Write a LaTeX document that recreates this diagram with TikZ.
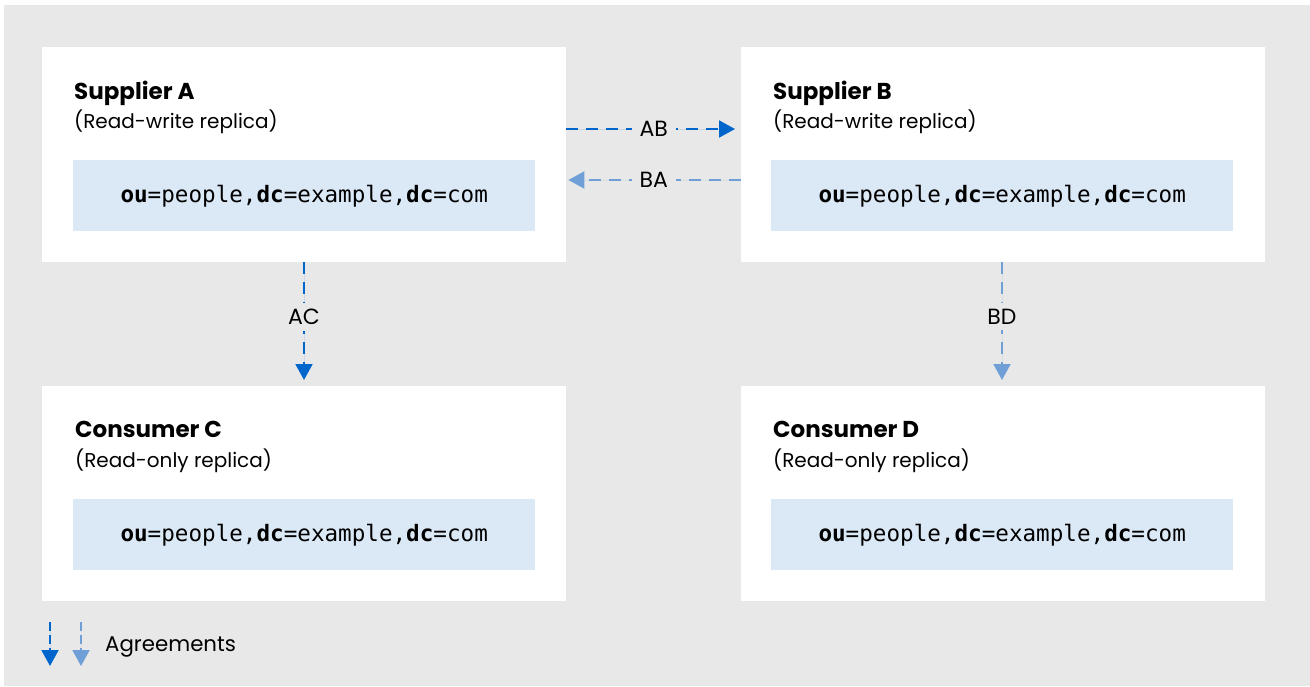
\documentclass[tikz,border=0pt]{standalone}
\usepackage{fontspec}
\setmainfont{Poppins}
\setmonofont{DejaVu Sans Mono}
\usetikzlibrary{arrows.meta}
\definecolor{bggray}{HTML}{E8E8E8}
\definecolor{darkblue}{HTML}{0066CC}
\definecolor{lightblue}{HTML}{6F9FD6}
\definecolor{innerfill}{HTML}{DBE8F6}
\tikzset{
  x=1pt, y=-1pt,
  outerbox/.style={fill=white, draw=none, anchor=north west, minimum width=524pt, minimum height=215pt, inner sep=0pt},
  innerbox/.style={fill=innerfill, draw=none, anchor=north west, minimum width=462pt, minimum height=71pt, inner sep=0pt, font=\fontsize{22.6}{26}\selectfont\ttfamily},
  titletext/.style={anchor=base west, inner sep=0pt, font=\fontsize{23}{27}\selectfont\bfseries},
  subtext/.style={anchor=base west, inner sep=0pt, font=\fontsize{20}{24}\selectfont},
  agr/.style={line width=2pt, dash pattern=on 12pt off 8pt, -{Triangle[width=17pt,length=16pt]}},
  agrdark/.style={agr, draw=darkblue, fill=darkblue},
  agrlight/.style={agr, draw=lightblue, fill=lightblue},
  lbl/.style={fill=bggray, inner xsep=8pt, inner ysep=4pt, text=black, font=\fontsize{22}{26}\selectfont},
}
\newcommand{\dnval}{\textbf{ou}=people,\textbf{dc}=example,\textbf{dc}=com}
\begin{document}
\begin{tikzpicture}
\useasboundingbox (0,0) rectangle (1310,686);
\fill[bggray] (4,5) rectangle (1310,686);
% boxes
\node[outerbox] (A) at (42,47) {};
\node[outerbox] (B) at (741,47) {};
\node[outerbox] (C) at (42,386) {};
\node[outerbox] (D) at (741,386) {};
\node[innerbox] (Ai) at (73,160) {\dnval};
\node[innerbox] (Bi) at (771,160) {\dnval};
\node[innerbox] (Ci) at (73,499) {\dnval};
\node[innerbox] (Di) at (771,499) {\dnval};
\node[titletext] (At) at (74,99) {Supplier A};
\node[subtext] (As) at (74,128) {(Read-write replica)};
\node[titletext] (Bt) at (773,99) {Supplier B};
\node[subtext] (Bs) at (773,128) {(Read-write replica)};
\node[titletext] (Ct) at (75,437) {Consumer C};
\node[subtext] (Cs) at (75,467) {(Read-only replica)};
\node[titletext] (Dt) at (773,437) {Consumer D};
\node[subtext] (Ds) at (773,467) {(Read-only replica)};
% agreement connectors
\coordinate (abY) at (0,129);
\coordinate (baY) at (0,180);
\coordinate (acX) at (304,0);
\coordinate (bdX) at (1002,0);
\draw[agrdark, shorten >=6pt] (A.east |- abY) -- node[lbl] (ABl) {AB} (B.west |- abY);
\draw[agrlight, shorten >=2pt] (B.west |- baY) -- node[lbl] (BAl) {BA} (A.east |- baY);
\draw[agrdark, shorten >=6pt] (acX |- A.south) -- node[lbl, pos=0.44, inner xsep=4pt, inner ysep=6pt] (ACl) {AC} (acX |- C.north);
\draw[agrlight, shorten >=6pt] (bdX |- B.south) -- node[lbl, pos=0.44, inner xsep=4pt, inner ysep=6pt] (BDl) {BD} (bdX |- D.north);
% legend
\coordinate (l1s) at (50,622);
\coordinate (l1e) at (50,666);
\coordinate (l2s) at (81,622);
\coordinate (l2e) at (81,666);
\draw[agrdark, dash pattern=on 9pt off 4pt] (l1s) -- (l1e);
\draw[agrlight, dash pattern=on 9pt off 4pt] (l2s) -- (l2e);
\node[anchor=base west, inner sep=0pt, font=\fontsize{21.3}{25}\selectfont] (leg) at (105,651) {Agreements};
\end{tikzpicture}
\end{document}
